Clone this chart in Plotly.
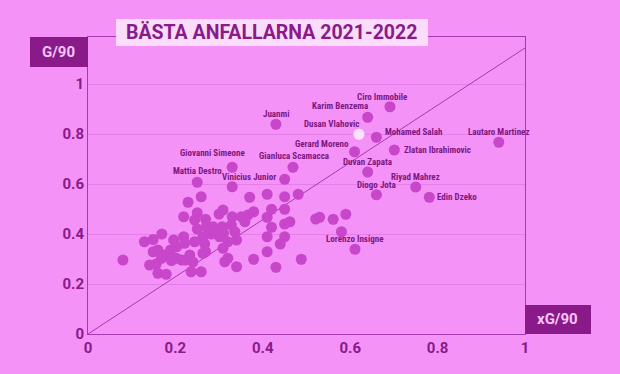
import plotly.graph_objects as go

# Labeled players: xG/90, G/90
names = ["Ciro Immobile", "Karim Benzema", "Juanmi", "Dusan Vlahovic", "Mohamed Salah",
         "Lautaro Martinez", "Zlatan Ibrahimovic", "Gerard Moreno", "Giovanni Simeone",
         "Gianluca Scamacca", "Duvan Zapata", "Vinicius Junior", "Mattia Destro",
         "Riyad Mahrez", "Diogo Jota", "Edin Dzeko", "Lorenzo Insigne"]
named_xg = [0.691, 0.640, 0.430, 0.620, 0.660, 0.940, 0.701, 0.610, 0.330,
            0.469, 0.640, 0.450, 0.250, 0.750, 0.660, 0.781, 0.611]
named_g = [0.909, 0.867, 0.839, 0.799, 0.787, 0.767, 0.736, 0.729, 0.667,
           0.667, 0.648, 0.619, 0.607, 0.588, 0.557, 0.547, 0.339]
# label placement (anchor, x offset px, y offset px up)
label_anchor = ["center", "center", "center", "center", "left", "center", "left",
                "center", "center", "center", "center", "right", "center",
                "center", "center", "left", "center"]
label_dx = [-7, -28, 0, -27, 7, 0, 8, -33, -20, 1, 0, -7, 0, 0, 0, 6, 0]
label_dy = [10, 11, 10, 10, 5, 10, 0, 8, 14, 11, 10, 2, 11, 10, 10, 0, 10]
highlight = "Dusan Vlahovic"

# Other players
other_xg = [0.080, 0.129, 0.149, 0.169, 0.149, 0.160, 0.189, 0.175, 0.168, 0.141,
            0.156, 0.160, 0.179, 0.191, 0.202, 0.214, 0.223, 0.233, 0.240, 0.236,
            0.259, 0.263, 0.269, 0.196, 0.203, 0.219, 0.221, 0.244, 0.263, 0.229,
            0.259, 0.250, 0.244, 0.219, 0.269, 0.271, 0.300, 0.309, 0.286, 0.290,
            0.307, 0.310, 0.328, 0.336, 0.330, 0.340, 0.313, 0.320, 0.309, 0.320,
            0.340, 0.330, 0.250, 0.301, 0.282, 0.267,
            0.370, 0.410, 0.450, 0.481, 0.351, 0.359, 0.366, 0.379, 0.420, 0.450,
            0.410, 0.450, 0.462, 0.420, 0.410, 0.450, 0.440, 0.410, 0.379, 0.430,
            0.488, 0.521, 0.530, 0.561, 0.590, 0.580]
other_g = [0.296, 0.369, 0.378, 0.400, 0.329, 0.336, 0.336, 0.316, 0.303, 0.276,
           0.280, 0.243, 0.239, 0.294, 0.303, 0.296, 0.296, 0.316, 0.288, 0.249,
           0.249, 0.323, 0.329, 0.376, 0.349, 0.389, 0.363, 0.369, 0.389, 0.527,
           0.549, 0.485, 0.456, 0.469, 0.459, 0.429, 0.480, 0.496, 0.429, 0.409,
           0.429, 0.403, 0.436, 0.409, 0.469, 0.376, 0.289, 0.303, 0.343, 0.369,
           0.269, 0.589, 0.420, 0.389, 0.400, 0.360,
           0.547, 0.559, 0.549, 0.559, 0.469, 0.449, 0.476, 0.489, 0.499, 0.499,
           0.467, 0.440, 0.449, 0.427, 0.389, 0.389, 0.360, 0.329, 0.299, 0.267,
           0.299, 0.460, 0.467, 0.459, 0.479, 0.409]

diag_x = [0, 1]
diag_y = [0, 1.144]

tick_vals = [0, 0.2, 0.4, 0.6, 0.8, 1]
tick_text = ["0", "0.2", "0.4", "0.6", "0.8", "1"]

title = "BÄSTA ANFALLARNA 2021-2022"
y_title = "G/90"
x_title = "xG/90"

BG = "#f592f8"
DOT = "#c746ca"
DARK = "#8a1a8a"
TXT = "#7d1782"
LINE = "#a63aae"
LABEL_FONT = "Liberation Sans Narrow, Roboto Condensed, Roboto"

fig = go.Figure()
fig.add_trace(go.Scatter(x=diag_x, y=diag_y, mode="lines",
                         line=dict(color=LINE, width=1), hoverinfo="skip"))
fig.add_trace(go.Scatter(x=other_xg, y=other_g, mode="markers",
                         marker=dict(size=11, color=DOT, line=dict(width=0))))
named_colors = ["#fbe2fc" if n == highlight else DOT for n in names]
fig.add_trace(go.Scatter(x=named_xg, y=named_g, mode="markers", text=names,
                         marker=dict(size=11, color=named_colors, line=dict(width=0))))

for n, x, y, a, dx, dy in zip(names, named_xg, named_g, label_anchor, label_dx, label_dy):
    fig.add_annotation(x=x, y=y, text=n, showarrow=False, xshift=dx, yshift=dy,
                       xanchor=a, yanchor="middle",
                       font=dict(family=LABEL_FONT, size=9, color=TXT, weight="bold"))

fig.update_layout(
    width=620, height=374,
    margin=dict(l=88, r=95, t=37, b=40),
    paper_bgcolor=BG, plot_bgcolor=BG,
    showlegend=False,
    font=dict(family="Roboto", color=DARK),
    xaxis=dict(range=[0, 1], tickvals=tick_vals, ticktext=tick_text,
               showgrid=False, zeroline=False, showline=True, mirror=True,
               linecolor=LINE, linewidth=1, ticks="",
               tickfont=dict(family="Roboto", size=15, color=DARK, weight="bold")),
    yaxis=dict(range=[0, 1.188], tickvals=tick_vals, ticktext=tick_text,
               showgrid=True, gridcolor="#e47fe9", gridwidth=1,
               zeroline=False, showline=True, mirror=True,
               linecolor=LINE, linewidth=1, ticks="",
               tickfont=dict(family="Roboto", size=15, color=DARK, weight="bold")),
    shapes=[
        dict(type="rect", xref="paper", yref="paper", x0=0.064, x1=0.778,
             y0=0.970, y1=1.061, fillcolor="#fbdcfb", line=dict(width=0), layer="above"),
        dict(type="rect", xref="paper", yref="paper", x0=-0.1327, x1=0,
             y0=0.899, y1=1.0, fillcolor=DARK, line=dict(width=0), layer="above"),
        dict(type="rect", xref="paper", yref="paper", x0=1.0, x1=1.151,
             y0=0.0, y1=0.0976, fillcolor=DARK, line=dict(width=0), layer="above"),
    ],
)
fig.add_annotation(xref="paper", yref="paper", x=0.421, y=1.0155, text=title,
                   showarrow=False, xanchor="center", yanchor="middle",
                   font=dict(family="Roboto", size=19.5, color=DARK, weight="bold"))
fig.add_annotation(xref="paper", yref="paper", x=-0.0664, y=0.949, text=y_title,
                   showarrow=False, xanchor="center", yanchor="middle",
                   font=dict(family="Roboto", size=15, color="#f3c6f5", weight="bold"))
fig.add_annotation(xref="paper", yref="paper", x=1.0755, y=0.049, text=x_title,
                   showarrow=False, xanchor="center", yanchor="middle",
                   font=dict(family="Roboto", size=15, color="#f3c6f5", weight="bold"))

fig.write_html("out.html",
               config={"displayModeBar": False},
               post_script="document.body.style.margin='0';"
                           "document.body.style.background='" + BG + "';")
